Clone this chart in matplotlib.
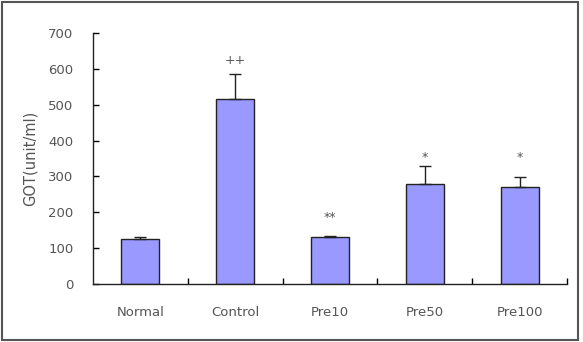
import numpy as np
import matplotlib.pyplot as plt
from matplotlib.patches import Rectangle

# data
groups = ["Normal", "Control", "Pre10", "Pre50", "Pre100"]
got_mean = [126, 515, 131, 279, 270]
got_err = [4, 70, 2, 50, 27]
marks = ["", "++", "**", "*", "*"]
mark_y = [0, 622, 186, 352, 352]

plt.rcParams['font.family'] = ['DejaVu Sans']

fig = plt.figure(figsize=(5.83, 3.42), dpi=100)
ax = fig.add_axes([0.1595, 0.1696, 0.813, 0.734])

x = np.arange(len(groups)) + 0.5
ax.bar(x, got_mean, width=0.4, color='#9999ff', edgecolor='#222222', linewidth=1.0, zorder=2)
ax.errorbar(x, got_mean, yerr=[np.zeros(len(got_err)), got_err], fmt='none',
            ecolor='#222222', elinewidth=1.0, capsize=4, capthick=1.0, zorder=3)

for xi, m, my in zip(x, marks, mark_y):
    if m:
        ax.text(xi, my, m, ha='center', va='center', fontsize=9, color='#555555')

ax.set_xlim(0, len(groups))
ax.set_ylim(0, 700)
ax.set_yticks(range(0, 701, 100))
ax.set_xticks(range(1, len(groups) + 1))
ax.set_xticklabels([])
ax.set_xticks(x, minor=True)
ax.set_xticklabels(groups, minor=True)
ax.tick_params(axis='x', which='major', direction='in', length=4, width=1)
ax.tick_params(axis='x', which='minor', length=0, pad=16, labelsize=9.5, labelcolor='#555555')
ax.tick_params(axis='y', direction='in', length=4, width=1, labelsize=9.5, labelcolor='#555555', pad=14)

for s in ['top', 'right']:
    ax.spines[s].set_visible(False)
for s in ['left', 'bottom']:
    ax.spines[s].set_linewidth(1.0)
    ax.spines[s].set_color('#222222')

ax.set_ylabel('GOT(unit/ml)', fontsize=10.5, color='#555555', labelpad=8)

# outer frame around whole picture
fig.patches.append(Rectangle((0.003, 0.005), 0.988, 0.99, transform=fig.transFigure,
                             fill=False, edgecolor='#555555', linewidth=1.5))

fig.savefig('out.png', dpi=100)
